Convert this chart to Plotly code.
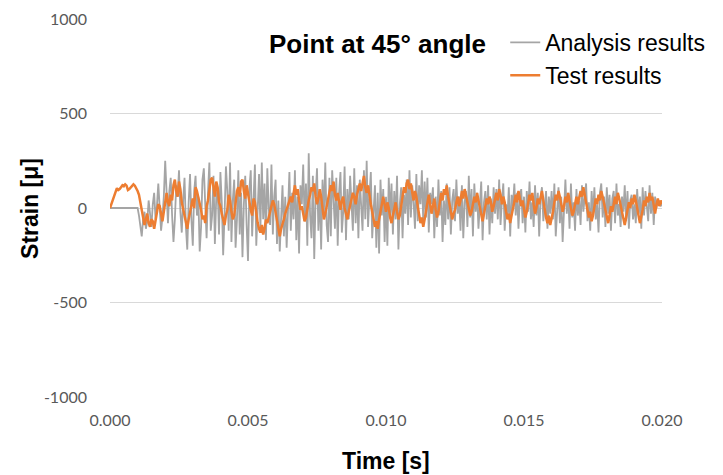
import plotly.graph_objects as go

# sampling step 0.00005 s, 401 samples from 0.000 to 0.020 s
time_s = [round(i * 0.00005, 5) for i in range(401)]

analysis_results = [
    0, 0, 0, 0, 0, 0, 0, 0, 0, 0, 0, 0, 0, 0, 0, 0, 0, 0, 0, 0,
    0, -40, -90, -150, -60, -20, -110, -70, 40, -30, -100, 20, 80, -60, 10, 130, -20, -120, -50, 60,
    250, 30, -80, 90, 160, -40, -180, -60, 120, 60, 200, -20, -130, 40, 160, -100, -220, 30, 180, -60,
    -200, 90, 170, -40, 60, -230, -100, 150, 210, 20, -160, 80, 240, -120, -40, 170, -190, 60, 100, -140,
    190, 30, -250, -40, 220, 90, -120, 240, -180, 40, 150, -210, -60, 200, -140, 80, -260, 20, 170, -90,
    -280, 100, 200, -150, 50, 230, -200, -30, 180, -110, 240, -60, 130, -170, 210, 0, -90, 230, -140, 60,
    150, -190, 40, -230, -80, 120, -150, 60, -210, 30, 190, -120, 80, -60, 200, -170, 60, -240, 120, 20,
    230, -70, 130, -200, 290, -40, -160, 170, -270, 60, 210, -120, 100, -220, 150, -30, 240, -90, -180, 160,
    -150, 200, 20, -110, 160, -200, 80, 190, -130, -20, 220, -170, 100, -60, 170, 30, -120, 210, -80, 120,
    -160, 150, 40, -120, 200, -60, 250, -100, 60, 190, -160, 20, 120, -210, 80, -240, 150, -40, 100, -180,
    60, -200, 160, -40, 130, -140, 90, -60, 170, -220, 20, 110, -160, 70, -30, 150, -90, 200, -50, 120,
    30, -110, 180, -70, 120, 20, 200, -80, 140, -50, 160, -130, 80, 20, 110, -160, 60, -100, 150, -40,
    90, -180, 40, -90, 130, -60, 110, -140, 40, 100, -70, 150, -30, 60, -120, 120, -160, 30, 90, -100,
    170, -50, 100, -150, 130, -20, 80, -110, 60, 140, -170, 30, 90, -60, 120, -140, 50, -80, 110, -30,
    100, -60, 150, -90, 40, 130, -120, 20, -50, 110, -150, 70, 10, 130, -40, 80, -110, 60, 100, -80,
    60, -130, 90, -20, 140, -60, 30, -100, 120, -40, 80, -150, 50, 110, -70, 20, 90, -110, 60, -30,
    90, -60, 130, -150, 20, 110, -80, 60, -180, 40, 150, -30, 80, -110, 130, -50, 30, -120, 100, -40,
    40, -90, 120, -20, 80, 130, -70, 30, -120, 90, -40, 110, -60, 20, -130, 80, 130, -50, 60, -100,
    110, -30, 70, -120, 50, 90, -80, 130, -40, 20, -100, 60, -20, 120, -70, 90, -110, 40, 70, -60,
    20, -80, 100, -30, 60, -110, 110, -40, 90, 10, -70, 120, -30, 80, -90, 60, 0, 40, 30, 10,
    20,
]

test_results = [
    0, 20, 45, 70, 90, 105, 95, 100, 110, 120, 115, 125, 118, 95, 100, 108, 112, 125, 118, 105,
    90, 70, 30, -20, -70, -90, -60, -30, -80, -100, -60, -70, -110, -60, -20, 20, 10, -40, -70, -20,
    40, 80, 30, 10, 70, 40, 120, 150, 90, 60, 140, 100, 30, -10, -50, -80, -110, -60, -20, 30,
    50, 0, 110, 90, 60, 20, -10, -60, -40, -80, 10, 40, 90, 150, 160, 100, 60, 140, 110, 30,
    10, -30, -60, -90, -40, -10, 70, 40, -20, -60, -40, 30, 90, 110, 60, 140, 150, 90, 50, 120,
    70, 20, -10, -40, 50, 30, -30, -80, -110, -130, -90, -140, -110, -60, -80, -40, -20, 10, 40, 20,
    -20, -80, -120, -150, -110, -90, -60, -30, -10, 20, 40, 60, 30, 90, 120, 70, 100, 40, -10, 10,
    -30, -70, -50, 10, 40, 70, 110, 90, 130, 60, 20, 50, 100, 60, -20, -60, -30, 10, 30, 80,
    120, 90, 140, 70, 40, 80, 20, -10, 40, 60, 0, -30, -60, -20, 20, 50, 80, 60, 20, 70,
    100, 130, 90, 140, 170, 110, 80, 120, 60, 20, -20, -60, -100, -70, -110, -60, -20, 30, 60, 20,
    -20, 30, 0, -50, -80, -40, -10, 30, -20, -60, -40, 10, 60, 110, 80, 130, 150, 100, 130, 80,
    40, 90, 60, 10, -30, -80, -50, -100, -60, -20, 30, 70, 20, -30, 10, 50, -10, -50, -20, 30,
    80, 40, 100, 70, 120, 60, 20, -20, -60, -30, -10, 30, 60, 10, 40, 90, 50, 100, 60, 20,
    -10, -40, -20, 20, 60, 30, 80, 40, 0, -40, -70, -30, 10, 50, 20, 60, 30, -20, 10, 50,
    80, 40, 100, 70, 20, 60, 30, -20, -60, -30, -80, -40, 0, 40, 70, 30, 90, 50, 10, 40,
    -10, -50, -20, 30, 70, 40, 80, 20, -30, 0, 50, 20, 60, 90, 40, -10, -50, -80, -40, -90,
    -60, -20, 30, 70, 40, 90, 60, 20, -20, 10, 60, 30, 80, 40, 0, -40, -20, 30, 60, 20,
    50, 90, 60, 110, 70, 30, -10, -50, -20, -70, -40, 10, 50, 20, 70, 40, 90, 60, 20, -20,
    -50, -80, -40, 10, -20, 30, 60, 20, 80, 50, 10, -30, -60, -90, -50, -10, 30, 0, 50, 20,
    70, 40, -10, -40, -80, -50, -10, 40, 10, 60, 30, 80, 40, 60, 10, -30, 20, 50, 10, 40,
    20,
]

x_ticks = [0.000, 0.005, 0.010, 0.015, 0.020]
y_ticks = [-1000, -500, 0, 500, 1000]

fig = go.Figure()
fig.add_trace(go.Scatter(x=time_s, y=analysis_results, mode="lines",
                         name="Analysis results",
                         line=dict(color="#A5A5A5", width=1.8)))
fig.add_trace(go.Scatter(x=time_s, y=test_results, mode="lines",
                         name="Test results",
                         line=dict(color="#ED7D31", width=2.5)))

tick_font = dict(family="Lato, Liberation Sans, sans-serif", size=16, color="#595959")
bold_font = dict(family="Liberation Sans, Arial, sans-serif", color="black")

fig.update_layout(
    width=723, height=475,
    margin=dict(l=102, r=69, t=11, b=86),
    paper_bgcolor="white", plot_bgcolor="white",
    showlegend=True,
    legend=dict(x=0.716, y=0.995, xanchor="left", yanchor="top",
                bgcolor="rgba(255,255,255,0)",
                font=dict(family="Liberation Sans, Arial, sans-serif", size=23, color="black"),
                itemwidth=30, tracegroupgap=0),
    xaxis=dict(range=[0, 0.02], tickvals=x_ticks, ticktext=[f"{v:.3f}" for v in x_ticks],
               showgrid=False, zeroline=False, showline=False, ticks="",
               tickfont=tick_font, ticklabelstandoff=12, automargin=False),
    yaxis=dict(range=[-1000, 1000], tickvals=y_ticks, ticktext=[str(v) for v in y_ticks],
               showgrid=True, gridcolor="#D9D9D9", gridwidth=1, zeroline=False,
               showline=False, ticks="", tickfont=tick_font, ticklabelstandoff=22,
               automargin=False),
    annotations=[
        dict(text="<b>Point at 45° angle</b>", x=0.4855, y=0.935, xref="paper", yref="paper",
             xanchor="center", yanchor="middle", showarrow=False,
             font=dict(bold_font, size=26)),
        dict(text="<b>Time [s]</b>", x=0.5, y=-0.169, xref="paper", yref="paper",
             xanchor="center", yanchor="middle", showarrow=False,
             font=dict(bold_font, size=23)),
        dict(text="<b>Strain [μ]</b>", x=-0.145, y=0.5, xref="paper", yref="paper",
             xanchor="center", yanchor="middle", textangle=-90, showarrow=False,
             font=dict(bold_font, size=23)),
    ],
)

fig.write_html("out.html")
